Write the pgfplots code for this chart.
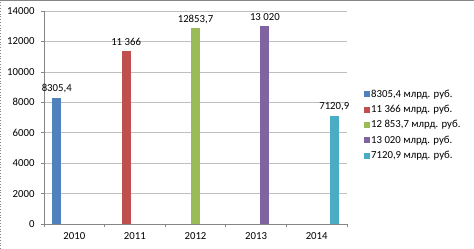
\documentclass[border=0pt]{standalone}
\usepackage{fontspec}
\setmainfont{Carlito}
\usepackage{pgfplots}
\pgfplotsset{compat=1.18}
\definecolor{cA}{HTML}{4F81BD}
\definecolor{cB}{HTML}{C0504D}
\definecolor{cC}{HTML}{9BBB59}
\definecolor{cD}{HTML}{8064A2}
\definecolor{cE}{HTML}{4BACC6}
\definecolor{gridc}{HTML}{BFBFBF}
\definecolor{axc}{HTML}{868686}
\begin{document}
\begin{tikzpicture}
\useasboundingbox (0,0) rectangle (474bp,249bp);
\draw[axc, line width=0.8bp] (0,248.6bp) -- (474bp,248.6bp);
\draw[axc, line width=0.8bp, dotted] (0.6bp,0) -- (0.6bp,249bp);
\begin{axis}[
  at={(44bp,25bp)}, anchor=south west,
  scale only axis, width=303bp, height=213bp,
  font=\fontsize{10.8}{13}\selectfont,
  /pgf/number format/assume math mode=true,
  /pgf/number format/fixed,
  /pgf/number format/1000 sep={},
  ybar, bar width=0.145,
  xmin=-0.5, xmax=4.5, ymin=0, ymax=14000,
  ytick={0,2000,...,14000},
  scaled y ticks=false,
  ymajorgrids, grid style={gridc, line width=0.6bp},
  axis x line*=bottom, axis y line*=left,
  axis line style={-, axc, line width=0.6bp},
  tick align=outside,
  major tick length=3bp,
  tick style={axc, line width=0.6bp},
  xtick={-0.5,0.5,...,4.5}, xticklabels={},
  extra x ticks={0,1,2,3,4},
  extra x tick labels={2010,2011,2012,2013,2014},
  extra x tick style={major tick length=0pt, grid=none},
  xticklabel style={yshift=-5bp},
  yticklabel style={xshift=-3bp},
  nodes near coords, point meta=explicit symbolic,
  every node near coord/.append style={font=\fontsize{10.8}{13}\selectfont, yshift=1.5bp, black},
  legend style={at={(1,0.5)}, anchor=west, xshift=14bp, yshift=-7.5bp,
    draw=none, fill=none, row sep=4.5bp, font=\fontsize{10.8}{13}\selectfont,
    nodes={inner sep=1bp}},
  legend cell align=left,
  legend image code/.code={\fill[#1] (0bp,-3bp) rectangle (6bp,3bp);},
]
\addplot[fill=cA, draw=none, bar shift=0pt] coordinates {(-0.29,8305.4) [8305,4]};
\addplot[fill=cB, draw=none, bar shift=0pt] coordinates {(0.855,11366) [11 366]};
\addplot[fill=cC, draw=none, bar shift=0pt] coordinates {(2,12853.7) [12853,7]};
\addplot[fill=cD, draw=none, bar shift=0pt] coordinates {(3.145,13020) [13 020]};
\addplot[fill=cE, draw=none, bar shift=0pt] coordinates {(4.29,7120.9) [7120,9]};
\legend{{8305,4 млрд. руб.},{11 366 млрд. руб.},{12 853,7 млрд. руб.},{13 020 млрд. руб.},{7120,9 млрд. руб.}}
\end{axis}
\end{tikzpicture}
\end{document}
